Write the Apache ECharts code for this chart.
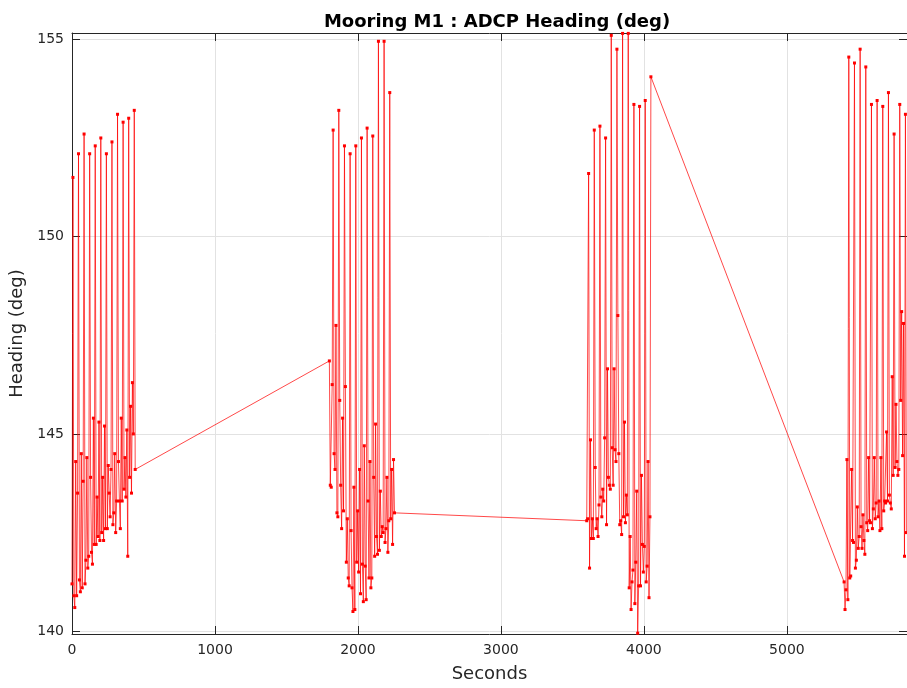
<!DOCTYPE html>
<html>
<head>
<meta charset="utf-8">
<title>Mooring M1 : ADCP Heading (deg)</title>
<script src="https://cdn.jsdelivr.net/npm/echarts@6/dist/echarts.min.js"></script>
<style>
    html, body { margin: 0; padding: 0; background: #fff; }
    #main { width: 907px; height: 688px; }
</style>
</head>
<body>
<div id="main"></div>
<script>
// sampling of each burst (seconds)
var burstStart = [0, 1800, 3600, 5400];
var burstStep = [6.5, 6.6, 6.6, 6.6];

// heading values (deg)
var burst1 = [
    141.2, 151.5, 140.9, 140.6, 144.3, 140.9, 143.5,
    152.1, 141.3, 141.0, 144.5, 141.1, 143.8,
    152.6, 141.2, 141.8, 144.4, 141.6, 141.9,
    152.1, 143.9, 142.0, 141.7, 145.4, 142.2,
    152.3, 142.2, 143.4, 142.4, 145.3, 142.3,
    152.5, 142.5, 143.9, 142.3, 145.2, 142.6,
    152.1, 142.6, 144.2, 143.5, 142.9, 144.1,
    152.4, 142.7, 143.0, 144.5, 142.5, 143.3,
    153.1, 144.3, 143.3, 142.6, 145.4, 143.3,
    152.9, 143.6, 144.4, 143.4, 145.1, 141.9,
    153.0, 143.9, 145.7, 143.5, 146.3, 145.0,
    153.2, 144.1
];
var burst2 = [
    146.85, 143.7, 143.65, 146.25,
    152.7, 144.5, 144.1, 147.75, 143.0, 142.9,
    153.2, 145.85, 143.7, 142.6, 145.4, 143.05,
    152.3, 146.2, 141.75, 142.85, 141.35, 141.15,
    152.1, 142.55, 141.1, 140.5, 143.65, 140.55,
    152.3, 141.75, 143.05, 141.5, 144.1, 140.95,
    152.5, 141.7, 140.75, 144.7, 141.65, 140.8,
    152.75, 143.3, 141.35, 144.3, 141.1, 141.35,
    152.55, 143.9, 141.9, 145.25, 142.4, 141.95,
    154.95, 142.05, 143.55, 142.4, 142.65, 142.5,
    154.95, 142.25, 142.6, 143.9, 142.0, 142.8,
    153.65, 142.85, 144.1, 142.2, 144.35, 143.0
];
var burst3 = [
    142.8, 142.85,
    151.6, 141.6, 144.85, 142.35, 142.85, 142.35,
    152.7, 144.15, 142.6, 142.85, 142.4, 143.2,
    152.8, 143.4, 142.9, 143.6, 143.3, 144.9,
    152.5, 142.7, 146.65, 143.9, 143.7, 143.6,
    155.1, 144.65, 143.7, 146.65, 144.6, 144.3,
    154.75, 148.0, 144.5, 142.7, 142.8, 142.45,
    155.15, 142.9, 145.3, 142.75, 143.45, 142.95,
    155.15, 141.1, 142.4, 140.55, 141.25, 141.55,
    153.35, 140.7, 141.75, 143.55, 139.95, 141.15,
    153.3, 141.15, 143.95, 142.2, 141.5, 142.15,
    153.45, 141.25, 141.65, 144.3, 140.85, 142.9,
    154.05
];
var burst4 = [
    141.25, 140.55, 141.05, 144.35, 140.8,
    154.55, 141.35, 141.4, 144.1, 142.3, 142.25,
    154.4, 141.6, 141.8, 143.15, 142.1, 142.4,
    154.75, 142.65, 142.1, 142.95, 142.3, 141.95,
    154.3, 142.75, 142.55, 144.4, 142.8, 142.75,
    153.35, 142.6, 143.1, 144.4, 142.85, 143.25,
    153.45, 142.9, 143.3, 142.55, 144.4, 142.6,
    153.3, 143.05, 143.3, 143.25, 145.05, 143.3,
    153.65, 143.45, 143.25, 143.1, 146.45, 143.95,
    152.6, 144.15, 145.75, 144.3, 143.95, 144.1,
    153.35, 145.85, 148.1, 144.45, 147.8, 141.9,
    153.1, 142.5
];

// axis ticks
var xTicks = [0, 1000, 2000, 3000, 4000, 5000];
var yTicks = [140, 145, 150, 155];

var bursts = [burst1, burst2, burst3, burst4];

// time/value pairs, all bursts joined in one line
var points = [];
for (var b = 0; b < bursts.length; b++) {
    for (var i = 0; i < bursts[b].length; i++) {
        points.push([burstStart[b] + i * burstStep[b], bursts[b][i]]);
    }
}

var font = 'DejaVu Sans';
var axisColor = '#262626';

var myChart = echarts.init(document.getElementById('main'));
var option = {
    animation: false,
    backgroundColor: '#ffffff',
    title: {
        text: 'Mooring M1 : ADCP Heading (deg)',
        left: 492,
        top: 8,
        textAlign: 'center',
        textStyle: {
            fontFamily: font,
            fontSize: 18,
            fontWeight: 'bold',
            color: '#000000'
        }
    },
    grid: {
        left: 72,
        right: -4,
        top: 33,
        bottom: 54
    },
    xAxis: [{
        type: 'value',
        position: 'bottom',
        min: 0,
        max: 5840,
        name: 'Seconds',
        nameLocation: 'middle',
        nameGap: 31,
        nameTextStyle: { fontFamily: font, fontSize: 18, color: axisColor },
        axisLine: { show: true, onZero: false, lineStyle: { color: axisColor, width: 1 } },
        axisTick: { show: true, inside: true, length: 8, customValues: xTicks, lineStyle: { color: axisColor } },
        axisLabel: {
            customValues: xTicks,
            margin: 9,
            fontFamily: font,
            fontSize: 14,
            color: axisColor,
            formatter: function (v) { return String(v); }
        },
        splitLine: { show: true, lineStyle: { color: '#e2e2e2', width: 1 } }
    }, {
        type: 'value',
        position: 'top',
        min: 0,
        max: 5840,
        axisLine: { show: true, onZero: false, lineStyle: { color: axisColor, width: 1 } },
        axisTick: { show: true, inside: true, length: 8, customValues: xTicks, lineStyle: { color: axisColor } },
        axisLabel: { show: false },
        splitLine: { show: false }
    }],
    yAxis: [{
        type: 'value',
        position: 'left',
        min: 139.93,
        max: 155.16,
        name: 'Heading (deg)',
        nameLocation: 'middle',
        nameRotate: 90,
        nameGap: 45,
        nameTextStyle: { fontFamily: font, fontSize: 18, color: axisColor },
        axisLine: { show: true, onZero: false, lineStyle: { color: axisColor, width: 1 } },
        axisTick: { show: true, inside: true, length: 8, customValues: yTicks, lineStyle: { color: axisColor } },
        axisLabel: { customValues: yTicks, margin: 8, fontFamily: font, fontSize: 14, color: axisColor },
        splitLine: { show: true, lineStyle: { color: '#e2e2e2', width: 1 } }
    }, {
        type: 'value',
        position: 'right',
        min: 139.93,
        max: 155.16,
        axisLine: { show: true, onZero: false, lineStyle: { color: axisColor, width: 1 } },
        axisTick: { show: true, inside: true, length: 8, customValues: yTicks, lineStyle: { color: axisColor } },
        axisLabel: { show: false },
        splitLine: { show: false }
    }],
    series: [{
        name: 'Heading',
        type: 'line',
        xAxisIndex: 0,
        yAxisIndex: 0,
        data: points,
        clip: true,
        showAllSymbol: true,
        symbol: 'rect',
        symbolSize: 3,
        lineStyle: { color: '#ff0000', width: 0.9, opacity: 0.8 },
        itemStyle: { color: '#ff0000' }
    }]
};
myChart.setOption(option);
</script>
</body>
</html>
